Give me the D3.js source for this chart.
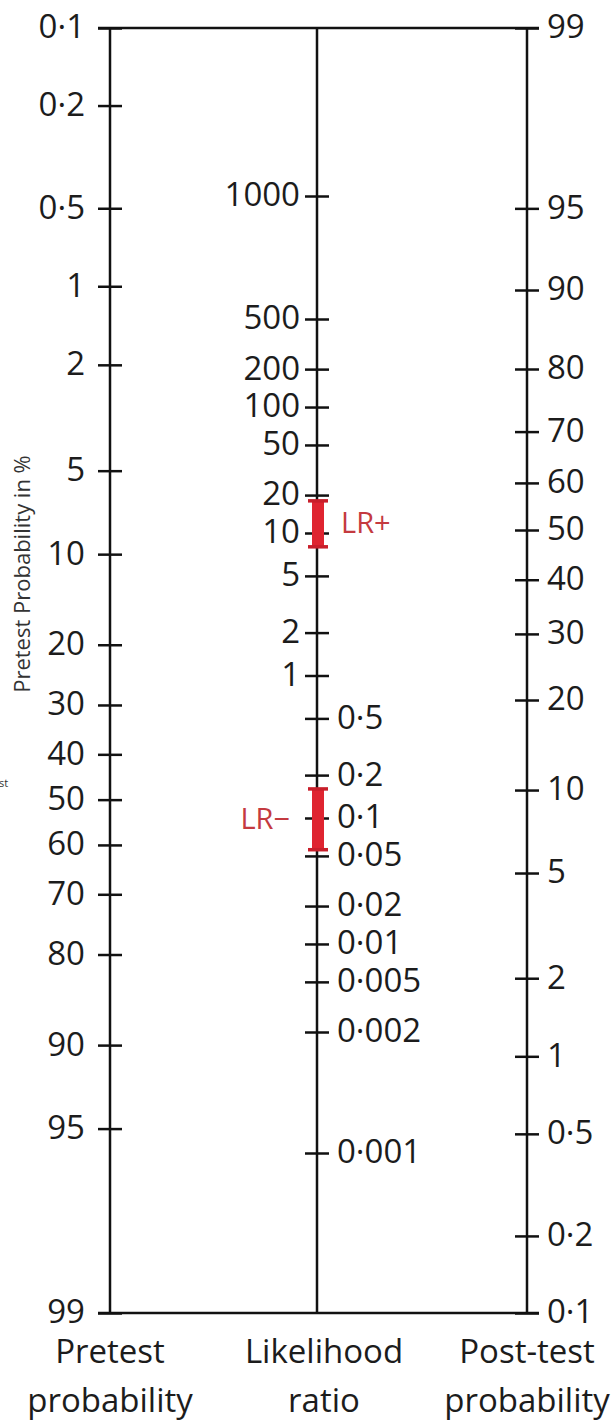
<!DOCTYPE html>
<html>
<head>
<meta charset="utf-8">
<script src="https://cdn.jsdelivr.net/npm/d3@7"></script>
<style>
  body { margin: 0; background: #fff; }
  text { font-family: "Open Sans", "Noto Sans", sans-serif; fill: #1c1c1c; }
</style>
</head>
<body>
<svg width="612" height="1423"></svg>
<script>
// tick values of the three scales (in %, and the ratio)
pretestTicks = [0.1, 0.2, 0.5, 1, 2, 5, 10, 20, 30, 40, 50, 60, 70, 80, 90, 95, 99]
lrTicks = [1000, 500, 200, 100, 50, 20, 10, 5, 2, 1, 0.5, 0.2, 0.1, 0.05, 0.02, 0.01, 0.005, 0.002, 0.001]
postTicks = [99, 95, 90, 80, 70, 60, 50, 40, 30, 20, 10, 5, 2, 1, 0.5, 0.2, 0.1]

// the two red intervals on the likelihood ratio axis
lrNames = ['LR+', 'LR−']
lrLow = [8.0, 0.056]
lrHigh = [18, 0.16]

axisTitles = [['Pretest', 'probability'], ['Likelihood', 'ratio'], ['Post-test', 'probability']]
sideNote = 'Pretest Probability in %'

logit = p => Math.log(p / (100 - p))
fmt = d => String(d).replace('.', '·')

let svg = d3.select('svg')
let yTop = 28, yBottom = 1313
let xL = 110, xM = 317, xR = 527

// pretest runs down on a logit scale
let yPre = d3.scaleLinear().domain([logit(0.1), logit(99)]).range([yTop, yBottom])
// post-test runs up; the printed scale is squeezed a bit in its upper half
let yPost = d3.scaleLinear()
    .domain([99, 90, 80, 50, 20, 0.1].map(logit))
    .range([yTop, 290, 369, 530, 700, yBottom])
// likelihood ratio: log scale, the printed nomogram stretches the two end decades
let yLR = d3.scaleLog()
    .domain([0.001, 0.002, 0.1, 10, 500, 1000])
    .range([1153, 1032, 818, 533, 319, 196])

function styleAxis(g) {
    g.select('.domain').remove()
    g.selectAll('.tick line').attr('x1', -12).attr('x2', 12)
        .attr('stroke', '#111').attr('stroke-width', 2.5)
    g.selectAll('.tick text').attr('font-size', 33).attr('dy', '0.3em')
        .attr('fill', '#1c1c1c').attr('font-family', '"Open Sans", sans-serif')
}

// the frame: three verticals and the two end lines
svg.append('g').selectAll('line').data([xL, xM, xR]).enter().append('line')
    .attr('x1', d => d).attr('x2', d => d)
    .attr('y1', yPre(logit(0.1))).attr('y2', yPre(logit(99)))
    .attr('stroke', '#111').attr('stroke-width', 2.5)
svg.append('g').selectAll('line').data([yPre(logit(0.1)), yPre(logit(99))]).enter().append('line')
    .attr('x1', xL - 12).attr('x2', xR + 12)
    .attr('y1', d => d).attr('y2', d => d)
    .attr('stroke', '#111').attr('stroke-width', 2.5)

svg.append('g').attr('transform', `translate(${xL},0)`)
    .call(d3.axisLeft(yPre).tickValues(pretestTicks.map(logit))
        .tickFormat((d, i) => fmt(pretestTicks[i])).tickSize(12).tickPadding(13))
    .call(styleAxis)

svg.append('g').attr('transform', `translate(${xR},0)`)
    .call(d3.axisRight(yPost).tickValues(postTicks.map(logit))
        .tickFormat((d, i) => fmt(postTicks[i])).tickSize(12).tickPadding(8))
    .call(styleAxis)

svg.append('g').attr('transform', `translate(${xM},0)`)
    .call(d3.axisLeft(yLR).tickValues(lrTicks.filter(d => d >= 1))
        .tickFormat(fmt).tickSize(12).tickPadding(5))
    .call(styleAxis)

svg.append('g').attr('transform', `translate(${xM},0)`)
    .call(d3.axisRight(yLR).tickValues(lrTicks.filter(d => d < 1))
        .tickFormat(fmt).tickSize(12).tickPadding(8))
    .call(styleAxis)

// red interval bars
let bars = svg.append('g').selectAll('g').data(lrNames).enter().append('g')
bars.append('rect')
    .attr('x', xM - 5).attr('width', 12)
    .attr('y', (d, i) => yLR(lrHigh[i]))
    .attr('height', (d, i) => yLR(lrLow[i]) - yLR(lrHigh[i]))
    .attr('fill', '#df2430')
bars.selectAll('line').data((d, i) => [lrHigh[i], lrLow[i]]).enter().append('line')
    .attr('x1', xM - 9).attr('x2', xM + 11)
    .attr('y1', d => yLR(d)).attr('y2', d => yLR(d))
    .attr('stroke', '#c81e2a').attr('stroke-width', 3.5)
bars.append('text')
    .attr('x', (d, i) => i == 0 ? xM + 24 : xM - 27)
    .attr('y', (d, i) => (yLR(lrHigh[i]) + yLR(lrLow[i])) / 2)
    .attr('dy', '0.33em')
    .attr('text-anchor', (d, i) => i == 0 ? 'start' : 'end')
    .attr('font-size', 29)
    .style('fill', '#c43a40')
    .text(d => d)

// titles under the three scales
let titles = svg.append('g').selectAll('text').data(axisTitles).enter().append('text')
    .attr('text-anchor', 'middle')
    .attr('font-size', 33)
titles.selectAll('tspan').data(d => d).enter().append('tspan')
    .attr('x', function (d, j) {
        let i = axisTitles.indexOf(d3.select(this.parentNode).datum())
        return [xL, xM + 7, xR][i]
    })
    .attr('y', (d, j) => 1363 + j * 49)
    .text(d => d)

svg.append('text')
    .attr('transform', 'translate(30,574) rotate(-90)')
    .attr('text-anchor', 'middle')
    .attr('font-size', 22)
    .style('fill', '#333')
    .text(sideNote)

// clipped leftover of a neighbouring label in the source figure
svg.append('text').attr('x', -1).attr('y', 787).attr('font-size', 11).style('fill', '#333').text('st')
</script>
</body>
</html>
